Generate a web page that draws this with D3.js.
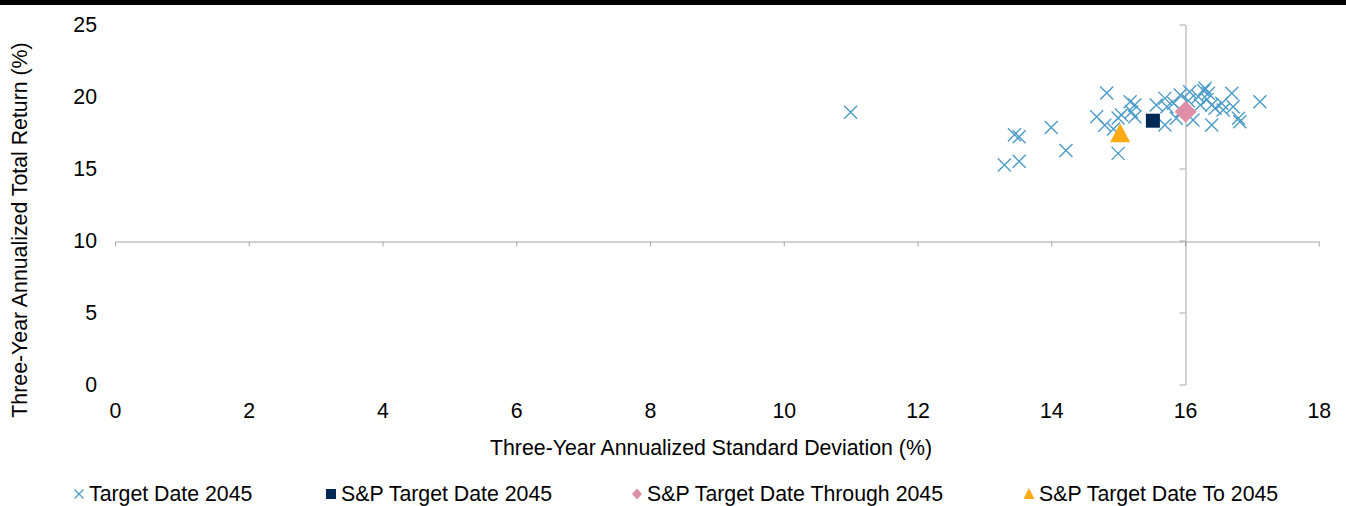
<!DOCTYPE html>
<html><head><meta charset="utf-8">
<script src="https://cdn.jsdelivr.net/npm/d3@7"></script>
<style>body{margin:0;background:#fff;} text{font-family:"Liberation Sans",Arial,sans-serif;}</style>
</head><body><svg id="c" width="1346" height="506"></svg>
<script>
// Data
const targetDate2045 = [
 [11.0,18.9],[13.3,15.25],[13.52,15.5],[13.45,17.35],[13.52,17.2],[14.0,17.85],[14.22,16.25],
 [14.83,20.25],[14.68,18.6],[14.8,18.0],[15.0,16.05],[15.05,18.72],[14.93,17.75],[15.0,18.5],
 [15.18,19.64],[15.25,19.41],[15.2,18.94],[15.25,18.6],
 [15.57,19.41],[15.7,19.87],[15.73,19.29],[15.7,18.02],[15.83,19.53],[15.93,20.1],[15.87,18.49],
 [16.07,20.33],[16.12,18.37],[16.2,19.99],[16.3,20.57],[16.35,20.22],[16.23,19.41],[16.4,19.41],
 [16.45,19.18],[16.55,19.53],[16.7,20.22],[16.72,19.29],[16.4,18.02],[16.8,18.49],[16.82,18.25],
 [17.12,19.64],[16.57,19.06],[16.28,20.4],[16.05,19.7],[15.95,19.0],[16.33,19.8]
];
const spTargetDate2045 = [[15.52,18.32]];
const spThrough2045 = [[16.01,18.94]];
const spTo2045 = [[15.03,17.45]];
const xTicks = [0,2,4,6,8,10,12,14,16,18];
const yTicks = [0,5,10,15,20,25];
const legendLabels = ["Target Date 2045","S&P Target Date 2045","S&P Target Date Through 2045","S&P Target Date To 2045"];

const svg = d3.select("#c");
svg.append("rect").attr("x",0).attr("y",0).attr("width",1346).attr("height",5).attr("fill","#000");

const x = d3.scaleLinear().domain([0,18]).range([115,1318.75]);
const y = d3.scaleLinear().domain([0,25]).range([384.5,24.5]);
const axisColor = "#a6a6a6";
const fs = 21.3;

// X axis crossing at y=10
const gx = svg.append("g").attr("transform",`translate(0,${Math.round(y(10))+0.5})`)
  .call(d3.axisBottom(x).tickValues(xTicks).tickSize(5).tickSizeOuter(0).tickFormat(d3.format("d")));
gx.select(".domain").attr("stroke",axisColor);
gx.selectAll(".tick line").attr("stroke",axisColor);
gx.selectAll(".tick text").attr("fill","#000").attr("font-size",fs).attr("font-family","Liberation Sans, Arial, sans-serif")
  .attr("dy",null).attr("y",411 - (Math.round(y(10))+0.5)).attr("dominant-baseline","central");

// Y axis crossing at x=16
const gy = svg.append("g").attr("transform",`translate(${Math.round(x(16))+0.5},0)`)
  .call(d3.axisLeft(y).tickValues(yTicks).tickSize(6).tickSizeOuter(0).tickFormat(d3.format("d")));
gy.select(".domain").attr("stroke",axisColor);
gy.selectAll(".tick line").attr("stroke",axisColor);
gy.selectAll(".tick text").attr("fill","#000").attr("font-size",fs).attr("font-family","Liberation Sans, Arial, sans-serif")
  .attr("x",97 - (Math.round(x(16))+0.5)).attr("dy",null).attr("dominant-baseline","central");

// Axis titles
svg.append("text").attr("x",711).attr("y",448).attr("text-anchor","middle").attr("dominant-baseline","central")
  .attr("font-size",fs).text("Three-Year Annualized Standard Deviation (%)");
svg.append("text").attr("transform","translate(20,230) rotate(-90)").attr("text-anchor","middle").attr("dominant-baseline","central")
  .attr("font-size",fs).text("Three-Year Annualized Total Return (%)");

const crossColor = "#4b9bc8", navy = "#002855", pink = "#de8fa7", orange = "#ffab16";
const crossPath = r => `M${-r},${-r}L${r},${r}M${-r},${r}L${r},${-r}`;

// crosses
svg.append("g").selectAll("path").data(targetDate2045).join("path")
  .attr("transform",d=>`translate(${x(d[0])},${y(d[1])})`)
  .attr("d",crossPath(6.5)).attr("stroke",crossColor).attr("stroke-width",1.4).attr("fill","none");

svg.append("g").selectAll("rect").data(spTargetDate2045).join("rect")
  .attr("x",d=>x(d[0])-7).attr("y",d=>y(d[1])-7).attr("width",14).attr("height",14).attr("fill",navy);

svg.append("g").selectAll("path").data(spThrough2045).join("path")
  .attr("transform",d=>`translate(${x(d[0])},${y(d[1])})`)
  .attr("d","M0,-11L11,0L0,11L-11,0Z").attr("fill",pink);

svg.append("g").selectAll("path").data(spTo2045).join("path")
  .attr("transform",d=>`translate(${x(d[0])},${y(d[1])})`)
  .attr("d","M0,-10L10,9L-10,9Z").attr("fill",orange);

// Legend
const ly = 494;
const lg = svg.append("g");
const lx = [79,331,637,1029];
lg.append("path").attr("transform",`translate(${lx[0]},${ly})`).attr("d",crossPath(4.5)).attr("stroke",crossColor).attr("stroke-width",1.2).attr("fill","none");
lg.append("rect").attr("x",lx[1]-5).attr("y",ly-5).attr("width",10).attr("height",10).attr("fill",navy);
lg.append("path").attr("transform",`translate(${lx[2]},${ly})`).attr("d","M0,-5.5L5,0L0,5.5L-5,0Z").attr("fill",pink);
lg.append("path").attr("transform",`translate(${lx[3]},${ly})`).attr("d","M0,-6L5.5,5L-5.5,5Z").attr("fill",orange);
legendLabels.forEach((t,i)=>{
  lg.append("text").attr("x",lx[i]+10).attr("y",500.5).attr("font-size",fs).text(t);
});
</script></body></html>
